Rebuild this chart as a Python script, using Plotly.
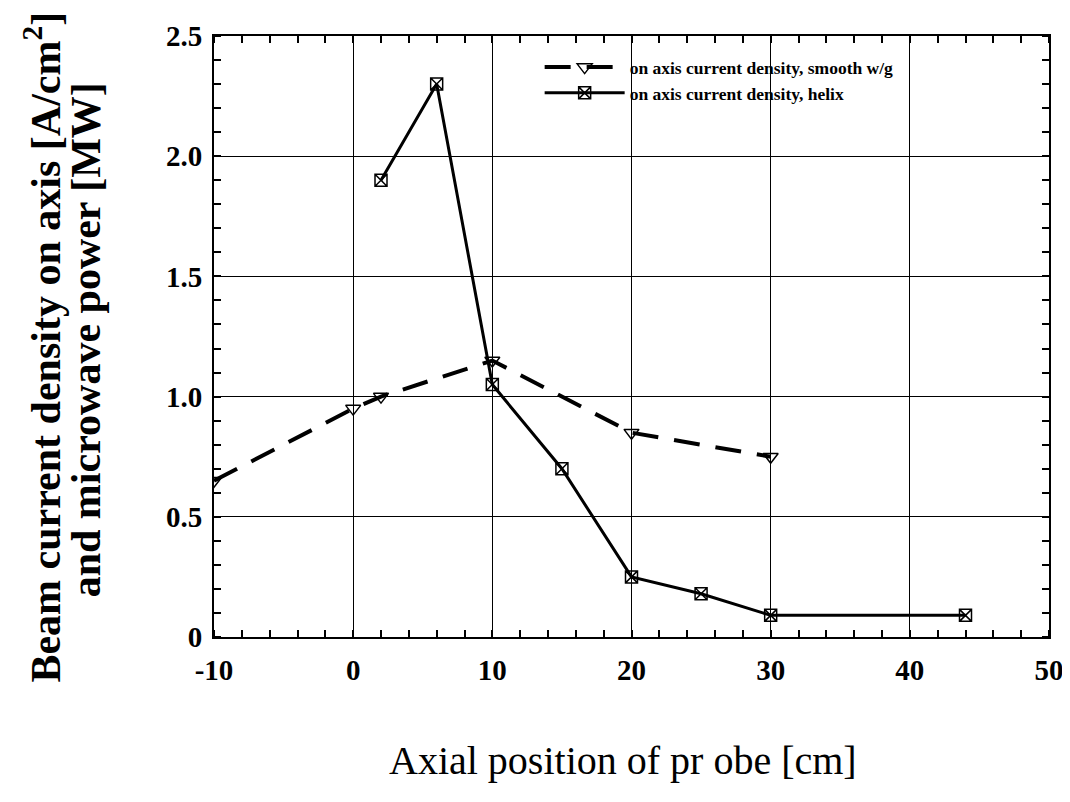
import plotly.graph_objects as go

# Data
smooth_x = [-10, 0, 2, 10, 20, 30]
smooth_y = [0.65, 0.95, 1.0, 1.15, 0.85, 0.75]
helix_x = [2, 6, 10, 15, 20, 25, 30, 44]
helix_y = [1.9, 2.3, 1.05, 0.7, 0.25, 0.18, 0.09, 0.09]

x_ticks = [-10, 0, 10, 20, 30, 40, 50]
y_ticks = [0, 0.5, 1.0, 1.5, 2.0, 2.5]
y_ticktext = ["0", "0.5", "1.0", "1.5", "2.0", "2.5"]

serif = "Liberation Serif, Times New Roman, serif"

fig = go.Figure()
fig.add_trace(go.Scatter(
    x=smooth_x, y=smooth_y, mode="lines+markers",
    name="<b>on axis current density, smooth w/g</b>",
    line=dict(color="black", width=4, dash="26px,16px"),
    marker=dict(symbol="triangle-down-open", size=13, color="black",
                line=dict(width=1.5, color="black")),
))
fig.add_trace(go.Scatter(
    x=helix_x, y=helix_y, mode="lines+markers",
    name="<b>on axis current density, helix</b>",
    line=dict(color="black", width=3),
    marker=dict(symbol="square-x-open", size=12, color="black",
                line=dict(width=1.5, color="black")),
))

axis_common = dict(
    showline=True, linecolor="black", linewidth=2, mirror="allticks",
    showgrid=True, gridcolor="black", gridwidth=1,
    ticks="", zeroline=False,
    tickfont=dict(family=serif, size=29, color="black", weight="bold"),
)

fig.update_xaxes(
    range=[-10, 50], tickvals=x_ticks, ticktext=[str(v) for v in x_ticks],
    ticklabelstandoff=6,
    minor=dict(dtick=2, tick0=0, ticks="inside", ticklen=7, tickcolor="black",
               tickwidth=1.5, showgrid=False),
    **axis_common,
)
fig.update_yaxes(
    range=[0, 2.5], tickvals=y_ticks, ticktext=y_ticktext,
    ticklabelstandoff=4,
    minor=dict(dtick=0.1, tick0=0, ticks="inside", ticklen=7, tickcolor="black",
               tickwidth=1.5, showgrid=False),
    **axis_common,
)

fig.update_layout(
    width=1070, height=802,
    margin=dict(l=206, r=29, t=20, b=173),
    plot_bgcolor="white", paper_bgcolor="white",
    showlegend=True,
    legend=dict(
        x=0.39, y=0.978, xanchor="left", yanchor="top",
        bgcolor="rgba(0,0,0,0)", borderwidth=0,
        font=dict(family=serif, size=17.5, color="black"),
        itemwidth=80, tracegroupgap=0,
    ),
    annotations=[
        dict(
            text="<b>Beam current density on axis [A/cm<sup>2</sup>]</b>",
            xref="paper", yref="paper", x=-0.205, y=0.483,
            xanchor="center", yanchor="middle", textangle=-90, showarrow=False,
            font=dict(family=serif, size=42, color="black"),
        ),
        dict(
            text="<b>and microwave power [MW]</b>",
            xref="paper", yref="paper", x=-0.153, y=0.494,
            xanchor="center", yanchor="middle", textangle=-90, showarrow=False,
            font=dict(family=serif, size=42, color="black"),
        ),
        dict(
            text="Axial position of pr obe [cm]",
            xref="paper", yref="paper", x=0.49, y=-0.205,
            xanchor="center", yanchor="middle", showarrow=False,
            font=dict(family=serif, size=40, color="black"),
        ),
    ],
)

fig.write_html("out.html")
